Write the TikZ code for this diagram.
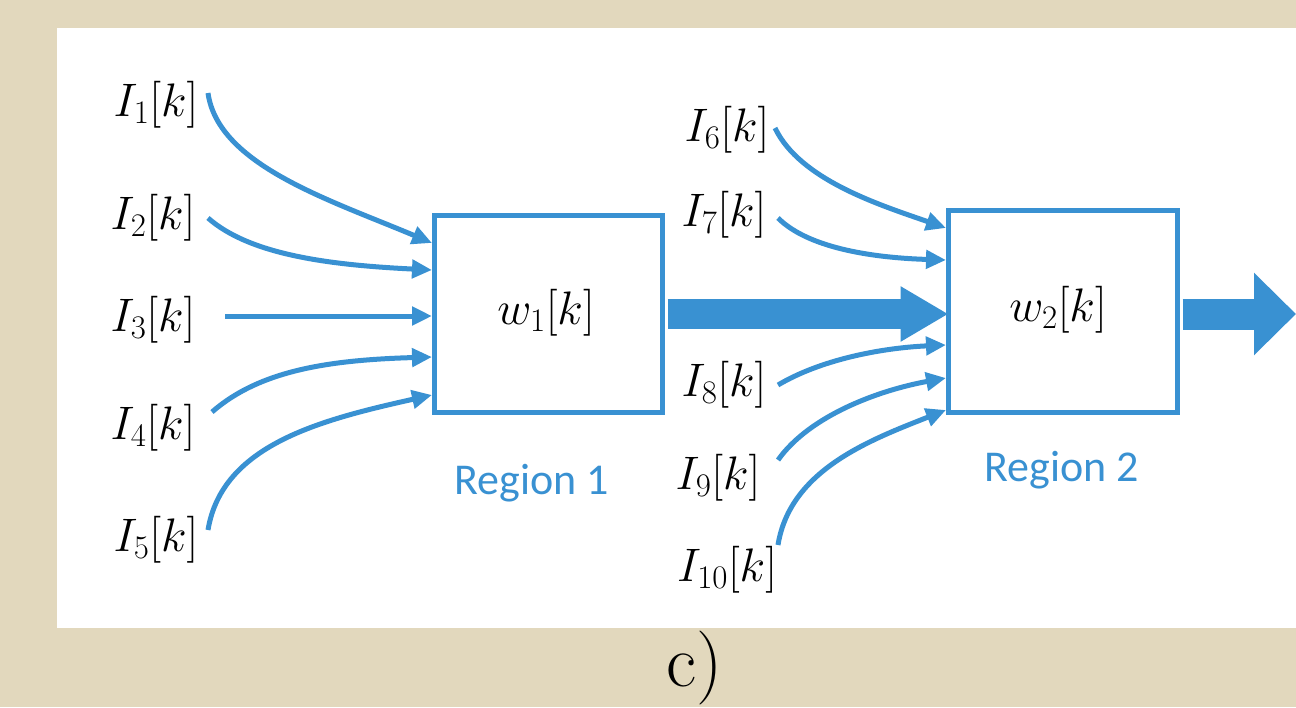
\RequirePackage{fix-cm}
\documentclass[tikz,border=0pt]{standalone}
\usepackage{fontspec}
\newfontfamily\regionfont{Carlito}
\usetikzlibrary{arrows.meta}
\definecolor{paper}{RGB}{226,216,189}
\definecolor{flow}{RGB}{57,145,210}
\tikzset{
  lbl/.style={inner sep=0pt, font=\fontsize{47}{54}\selectfont},
  block/.style={draw=flow, line width=5pt, fill=white, inner sep=0pt},
  feed/.style={draw=flow, line width=5pt, -{Triangle[length=20pt,width=18pt]}},
  trunk/.style={draw=flow, line width=30pt, -{Triangle[length=48pt,width=52pt]}},
  region/.style={text=flow, inner sep=0pt, font=\regionfont\fontsize{44}{50}\selectfont},
}
\begin{document}
\begin{tikzpicture}[x=1pt,y=-1pt]
  \useasboundingbox (0,0) rectangle (1296,707);
  \fill[paper] (0,0) rectangle (1296,707);
  \fill[white] (57,28) rectangle (1296,628);

  % the two regions
  \node[block, minimum width=228pt, minimum height=197pt] (b1) at (548.5,314) {};
  \node[block, minimum width=229pt, minimum height=202pt] (b2) at (1063,311.5) {};
  \node[lbl] (w1) at (546,313) {$w_1[k]$};
  \node[lbl] (w2) at (1058,310) {$w_2[k]$};
  \node[region] (r1) at (532,483) {Region 1};
  \node[region] (r2) at (1062,470) {Region 2};

  % inputs to region 1
  \node[lbl] (l1) at (156,105) {$I_1[k]$};
  \node[lbl] (l2) at (153,218) {$I_2[k]$};
  \node[lbl] (l3) at (153,320) {$I_3[k]$};
  \node[lbl] (l4) at (153,428) {$I_4[k]$};
  \node[lbl] (l5) at (156,540) {$I_5[k]$};
  \coordinate (s1) at (208,93);
  \coordinate (s2) at (208,218);
  \coordinate (s3) at (225,316);
  \coordinate (s4) at (212,412);
  \coordinate (s5) at (208,530);
  \draw[feed] (s1) .. controls (218,165) and (330,200) .. ([yshift=71pt]b1.west);
  \draw[feed] (s2) .. controls (250,255) and (330,265) .. ([yshift=44pt]b1.west);
  \draw[feed] (s3) -- ([yshift=-2pt]b1.west);
  \draw[feed] (s4) .. controls (260,370) and (330,360) .. ([yshift=-43pt]b1.west);
  \draw[feed] (s5) .. controls (222,445) and (320,420) .. ([yshift=-81pt]b1.west);

  % inputs to region 2
  \node[lbl] (l6) at (727,130) {$I_6[k]$};
  \node[lbl] (l7) at (724,215) {$I_7[k]$};
  \node[lbl] (l8) at (724,385) {$I_8[k]$};
  \node[lbl] (l9) at (718,478) {$I_9[k]$};
  \node[lbl] (l10) at (727,570) {$I_{10}[k]$};
  \coordinate (s6) at (775,128);
  \coordinate (s7) at (778,218);
  \coordinate (s8) at (778,385);
  \coordinate (s9) at (778,460);
  \coordinate (s10) at (778,545);
  \draw[feed] (s6) .. controls (800,180) and (880,205) .. ([yshift=83.5pt]b2.west);
  \draw[feed] (s7) .. controls (810,250) and (880,258) .. ([yshift=51.5pt]b2.west);
  \draw[feed] (s8) .. controls (820,360) and (880,348) .. ([yshift=-33.5pt]b2.west);
  \draw[feed] (s9) .. controls (810,415) and (880,390) .. ([yshift=-66.5pt]b2.west);
  \draw[feed] (s10) .. controls (790,470) and (870,440) .. ([yshift=-98.5pt]b2.west);

  % flow between regions and out of region 2
  \draw[trunk] ([xshift=2.5pt]b1.east) -- ([xshift=2.5pt]b1.east -| b2.west);
  \coordinate (out) at (1296,314);
  \draw[draw=flow, line width=31pt, -{Triangle[length=42pt,width=80pt]}] ([xshift=2.5pt]b2.east |- out) -- (out);

  \node[inner sep=0pt, anchor=base, font=\fontsize{74}{82}\selectfont] (cap) at (695,686) {$\mathrm{c)}$};
\end{tikzpicture}
\end{document}
